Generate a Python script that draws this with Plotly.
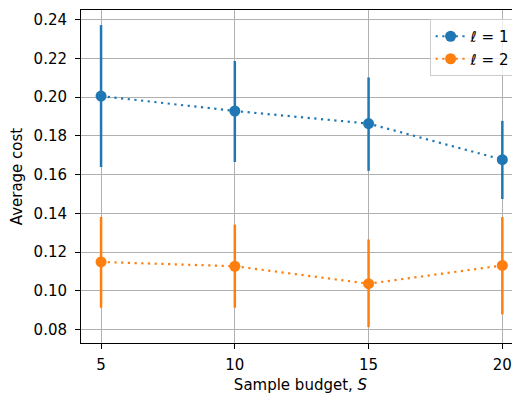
import plotly.graph_objects as go

budgets = [5, 10, 15, 20]

cost_l1 = [0.2005, 0.1928, 0.1863, 0.1677]
upper_l1 = [0.2371, 0.2186, 0.2101, 0.1877]
lower_l1 = [0.1639, 0.1665, 0.1619, 0.1474]

cost_l2 = [0.1149, 0.1127, 0.1037, 0.1131]
upper_l2 = [0.1381, 0.1342, 0.1265, 0.1381]
lower_l2 = [0.0913, 0.0913, 0.0813, 0.0879]

y_ticks = [0.08, 0.10, 0.12, 0.14, 0.16, 0.18, 0.20, 0.22, 0.24]
x_ticks = [5, 10, 15, 20]

blue = "#1f77b4"
orange = "#ff7f0e"


def series(x, y, up, lo, color, name):
    return go.Scatter(
        x=x, y=y, name=name, mode="lines+markers",
        line=dict(color=color, width=2.2, dash="2.2px,4.5px"),
        marker=dict(color=color, size=11),
        error_y=dict(
            type="data", symmetric=False,
            array=[u - v for u, v in zip(up, y)],
            arrayminus=[v - l for v, l in zip(y, lo)],
            color=color, thickness=2.5, width=0,
        ),
    )


fig = go.Figure()
fig.add_trace(series(budgets, cost_l1, upper_l1, lower_l1, blue, "<i>ℓ</i> = 1"))
fig.add_trace(series(budgets, cost_l2, upper_l2, lower_l2, orange, "<i>ℓ</i> = 2"))

axis_font = dict(family="DejaVu Sans", size=15, color="black")

fig.update_layout(
    width=512, height=391,
    margin=dict(l=73, r=0, t=2, b=56),
    paper_bgcolor="white", plot_bgcolor="white",
    font=axis_font,
    showlegend=True,
    legend=dict(
        x=0.99, y=0.973, xanchor="right", yanchor="top",
        bgcolor="rgba(255,255,255,0.8)", bordercolor="#cccccc", borderwidth=1,
        font=dict(family="DejaVu Sans", size=15),
        tracegroupgap=2,
    ),
    xaxis=dict(
        range=[4.25, 20.66], tickvals=x_ticks, ticktext=[str(v) for v in x_ticks],
        showgrid=True, gridcolor="#b0b0b0", gridwidth=1,
        showline=True, linecolor="black", linewidth=1, mirror=True,
        ticks="outside", ticklen=5, tickcolor="black",
        ticklabelstandoff=3,
        zeroline=False,
        title=dict(text="Sample budget, <i>S</i>", standoff=6, font=axis_font),
    ),
    yaxis=dict(
        range=[0.0731, 0.2449], tickvals=y_ticks, ticktext=[f"{v:.2f}" for v in y_ticks],
        showgrid=True, gridcolor="#b0b0b0", gridwidth=1,
        showline=True, linecolor="black", linewidth=1, mirror=False,
        ticks="outside", ticklen=5, tickcolor="black",
        ticklabelstandoff=5,
        zeroline=False,
        title=dict(text="Average cost", standoff=8, font=axis_font),
    ),
)

fig.write_html("out.html")
